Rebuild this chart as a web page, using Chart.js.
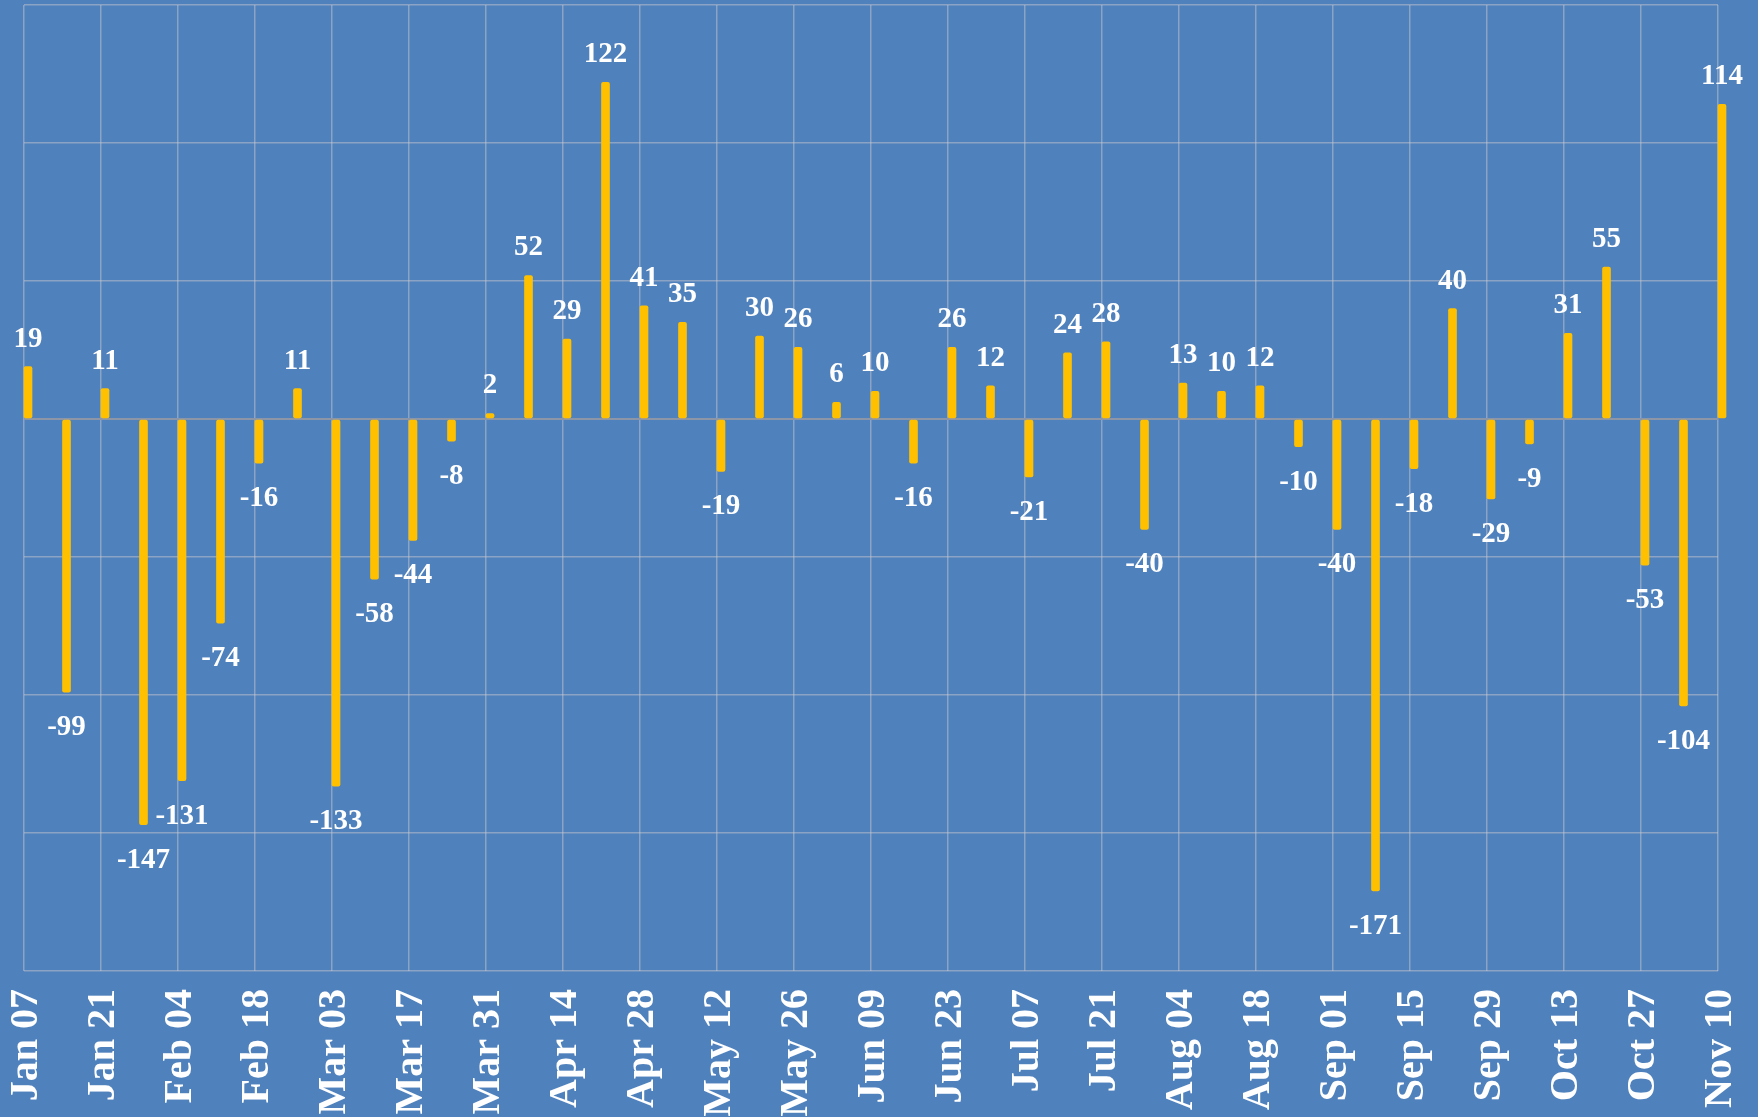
<!DOCTYPE html>
<html>
<head>
<meta charset="utf-8">
<script src="https://cdn.jsdelivr.net/npm/chart.js@4"></script>
<style>
  html, body { margin: 0; padding: 0; background: #4F81BD; }
  #wrap { width: 1758px; height: 1117px; position: relative; }
</style>
</head>
<body>
<div id="wrap"><canvas id="c" width="1758" height="1117"></canvas></div>
<script>
const weeks = ["Jan 07","Jan 14","Jan 21","Jan 28","Feb 04","Feb 11","Feb 18","Feb 25",
  "Mar 03","Mar 10","Mar 17","Mar 24","Mar 31","Apr 07","Apr 14","Apr 21","Apr 28",
  "May 05","May 12","May 19","May 26","Jun 02","Jun 09","Jun 16","Jun 23","Jun 30",
  "Jul 07","Jul 14","Jul 21","Jul 28","Aug 04","Aug 11","Aug 18","Aug 25",
  "Sep 01","Sep 08","Sep 15","Sep 22","Sep 29","Oct 06","Oct 13","Oct 20","Oct 27",
  "Nov 03","Nov 10"];
const values = [19,-99,11,-147,-131,-74,-16,11,-133,-58,-44,-8,2,52,29,122,41,35,-19,30,
  26,6,10,-16,26,12,-21,24,28,-40,13,10,12,-10,-40,-171,-18,40,-29,-9,31,55,-53,-104,114];
const yMin = -200, yMax = 150, yStep = 50;

const GRID = 'rgba(200,200,205,0.5)';
const ZERO = '#8d96a6';

const labelPlugin = {
  id: 'barLabels',
  afterDatasetsDraw(chart) {
    const ctx = chart.ctx;
    const meta = chart.getDatasetMeta(1);
    ctx.save();
    ctx.fillStyle = '#ffffff';
    ctx.font = 'bold 29px "Liberation Serif", serif';
    ctx.textAlign = 'center';
    ctx.textBaseline = 'alphabetic';
    meta.data.forEach((el, i) => {
      const v = values[i];
      const y = v >= 0 ? el.y - 20 : el.y + 43;
      ctx.fillText(String(v), el.x, y);
    });
    ctx.restore();
  }
};

new Chart(document.getElementById('c'), {
  type: 'bar',
  data: {
    labels: weeks,
    datasets: [
      { label: '', data: weeks.map(() => null), backgroundColor: 'transparent' },
      { label: 'Weekly change', data: values, backgroundColor: '#FFC000', borderRadius: 2,
        borderSkipped: false, clip: false }
    ]
  },
  options: {
    responsive: false,
    animation: false,
    barThickness: 8,
    layout: { padding: { left: 24, right: 40, top: 5, bottom: 0 } },
    plugins: { legend: { display: false }, tooltip: { enabled: false } },
    scales: {
      x: {
        offset: false,
        border: { display: false },
        grid: {
          offset: false,
          drawTicks: false,
          color: (c) => (c.index % 2 === 0 ? GRID : 'transparent'),
          lineWidth: 1.5
        },
        ticks: {
          autoSkip: false,
          maxRotation: 90,
          minRotation: 90,
          padding: 18,
          labelOffset: 3,
          color: '#ffffff',
          font: { family: '"Liberation Serif", serif', weight: 'bold', size: 40 },
          callback: (v, i) => (i % 2 === 0 ? weeks[i] : '')
        },
        afterFit: (s) => { s.height = 146; s.paddingLeft = 0; s.paddingRight = 0; }
      },
      y: {
        min: yMin, max: yMax,
        border: { display: false },
        grid: {
          drawTicks: false,
          color: (c) => (c.tick && c.tick.value === 0 ? ZERO : GRID),
          lineWidth: (c) => (c.tick && c.tick.value === 0 ? 2 : 1.5)
        },
        ticks: { stepSize: yStep, display: false },
        afterFit: (s) => { s.width = 0; }
      }
    }
  },
  plugins: [labelPlugin]
});
</script>
</body>
</html>
